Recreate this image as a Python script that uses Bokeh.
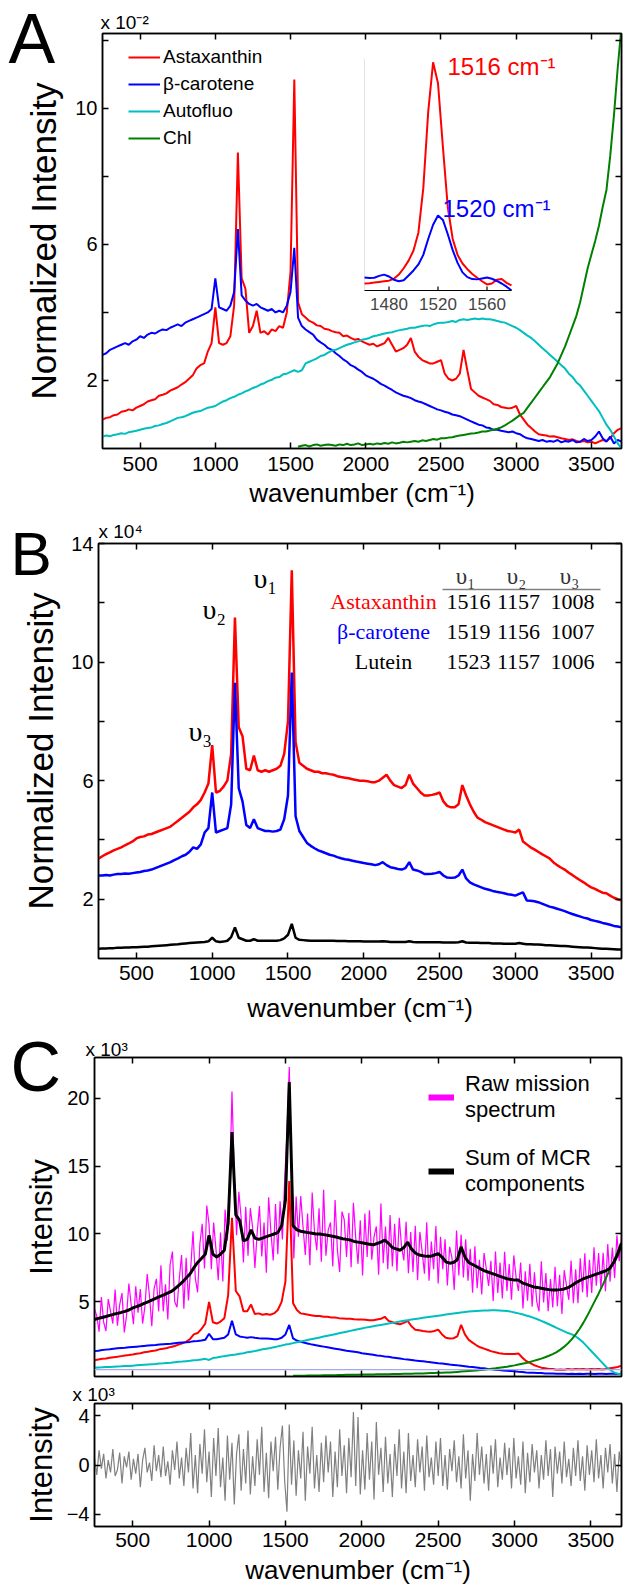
from bokeh.plotting import figure
from bokeh.models import Range1d, LinearAxis, FixedTicker, Label, Legend, LegendItem, Span
from bokeh.embed import file_html
from bokeh.resources import INLINE

# ---------------------------------------------------------------- data
wn = list(range(250, 3701, 25))        # sampling grid of the spectra (cm-1), 139 points
wn_chl = list(range(1550, 3701, 25))   # chlorophyll component only shown from 1550 cm-1, 87 points
wn_raw = list(range(250, 3701, 15))    # raw spectrum / residual grid, 231 points
x_ticks = [500, 1000, 1500, 2000, 2500, 3000, 3500]

# Panel A: normalized MCR spectra (x 10^-2)
A_astax = [0.85, 0.9, 0.92, 0.98, 1.0, 1.08, 1.1, 1.15, 1.12, 1.2, 1.25, 1.3, 1.38, 1.42, 1.45, 1.55, 1.58, 1.62, 1.7, 1.75,
           1.8, 1.88, 1.95, 2.05, 2.15, 2.35, 2.45, 2.5, 2.85, 3.1, 4.15, 3.1, 3.05, 3.1, 3.3, 4.2, 8.7, 5.0, 4.7, 3.4,
           3.6, 4.05, 3.4, 3.45, 3.35, 3.5, 3.45, 3.6, 3.55, 4.0, 5.2, 10.85, 4.3, 3.95, 3.85, 3.75, 3.7, 3.62, 3.6, 3.52,
           3.5, 3.45, 3.42, 3.4, 3.3, 3.32, 3.25, 3.2, 3.22, 3.15, 3.1, 3.05, 3.08, 3.0, 3.05, 3.1, 3.25, 3.05, 2.85, 2.9,
           2.95, 3.05, 3.25, 2.85, 2.7, 2.6, 2.55, 2.5, 2.5, 2.55, 2.6, 2.2, 2.05, 2.0, 2.05, 2.2, 2.9, 2.3, 1.75, 1.65,
           1.55, 1.5, 1.45, 1.4, 1.3, 1.28, 1.22, 1.2, 1.18, 1.2, 1.25, 1.0, 0.85, 0.7, 0.6, 0.5, 0.42, 0.4, 0.38, 0.35,
           0.36, 0.33, 0.3, 0.28, 0.25, 0.27, 0.22, 0.2, 0.22, 0.18, 0.2, 0.15, 0.2, 0.25, 0.22, 0.3, 0.45, 0.55, 0.6]
A_beta = [2.75, 2.8, 2.9, 2.95, 3.0, 3.05, 3.1, 3.05, 3.15, 3.2, 3.3, 3.25, 3.35, 3.4, 3.38, 3.45, 3.5, 3.48, 3.55, 3.6,
          3.65, 3.6, 3.7, 3.75, 3.8, 3.85, 3.9, 3.95, 4.0, 4.1, 5.0, 4.15, 4.1, 4.05, 4.2, 4.6, 6.45, 4.5, 4.35, 4.25,
          4.2, 4.25, 4.15, 4.1, 4.05, 4.1, 4.0, 4.05, 4.0, 4.2, 4.6, 5.9, 3.85, 3.6, 3.5, 3.42, 3.35, 3.2, 3.12, 3.05,
          2.95, 2.9, 2.8, 2.72, 2.62, 2.55, 2.45, 2.4, 2.32, 2.25, 2.15, 2.1, 2.05, 1.98, 1.9, 1.85, 1.78, 1.72, 1.65, 1.6,
          1.55, 1.52, 1.48, 1.42, 1.38, 1.35, 1.3, 1.25, 1.2, 1.15, 1.12, 1.08, 1.05, 1.0, 0.98, 0.95, 0.9, 0.85, 0.8, 0.75,
          0.7, 0.68, 0.62, 0.6, 0.55, 0.55, 0.52, 0.5, 0.48, 0.5, 0.45, 0.42, 0.35, 0.3, 0.28, 0.25, 0.22, 0.25, 0.2, 0.22,
          0.2, 0.25, 0.18, 0.22, 0.2, 0.25, 0.18, 0.2, 0.28, 0.22, 0.25, 0.35, 0.5, 0.3, 0.2, 0.35, 0.15, 0.25, 0.2]
A_autofluo = [0.35, 0.38, 0.36, 0.4, 0.42, 0.45, 0.43, 0.48, 0.5, 0.52, 0.55, 0.58, 0.6, 0.62, 0.66, 0.68, 0.72, 0.75, 0.8, 0.85,
              0.9, 0.92, 0.95, 1.0, 1.05, 1.08, 1.1, 1.15, 1.2, 1.22, 1.25, 1.32, 1.38, 1.42, 1.48, 1.52, 1.58, 1.62, 1.68, 1.72,
              1.78, 1.82, 1.88, 1.92, 1.98, 2.02, 2.08, 2.1, 2.18, 2.2, 2.25, 2.3, 2.25, 2.3, 2.5, 2.55, 2.6, 2.65, 2.72, 2.75,
              2.82, 2.88, 2.9, 2.95, 3.0, 3.05, 3.08, 3.12, 3.15, 3.2, 3.22, 3.25, 3.3, 3.32, 3.35, 3.38, 3.4, 3.42, 3.45, 3.48,
              3.5, 3.52, 3.55, 3.55, 3.58, 3.6, 3.62, 3.6, 3.65, 3.68, 3.7, 3.7, 3.72, 3.75, 3.72, 3.78, 3.8, 3.78, 3.8, 3.82,
              3.8, 3.82, 3.8, 3.8, 3.78, 3.75, 3.72, 3.7, 3.65, 3.6, 3.55, 3.48, 3.4, 3.32, 3.25, 3.15, 3.05, 2.95, 2.85, 2.75,
              2.65, 2.55, 2.45, 2.35, 2.2, 2.1, 1.95, 1.85, 1.7, 1.55, 1.4, 1.25, 1.1, 0.9, 0.7, 0.55, 0.35, 0.15, 0.0]
A_chl = [0.05, 0.08, 0.1, 0.06, 0.1, 0.12, 0.08, 0.1, 0.12, 0.1, 0.08, 0.12, 0.1, 0.14, 0.1, 0.12, 0.15, 0.1, 0.12, 0.14,
         0.12, 0.15, 0.13, 0.16, 0.14, 0.18, 0.15, 0.17, 0.2, 0.18, 0.2, 0.22, 0.2, 0.24, 0.22, 0.25, 0.28, 0.26, 0.3, 0.3,
         0.32, 0.33, 0.36, 0.38, 0.4, 0.42, 0.44, 0.45, 0.47, 0.5, 0.5, 0.53, 0.55, 0.58, 0.62, 0.68, 0.75, 0.82, 0.9, 0.98,
         1.05, 1.2, 1.35, 1.5, 1.65, 1.8, 1.95, 2.1, 2.3, 2.5, 2.75, 3.0, 3.3, 3.6, 3.9, 4.3, 4.8, 5.3, 5.7, 6.1,
         6.55, 7.1, 7.6, 8.6, 9.8, 11.2, 12.4]

# inset of panel A (1460-1580 cm-1)
inset_wn = [1460, 1464, 1468, 1472, 1476, 1480, 1484, 1488, 1492, 1496, 1500, 1504, 1508, 1512, 1516, 1520,
            1524, 1528, 1532, 1536, 1540, 1544, 1548, 1552, 1556, 1560, 1564, 1568, 1572, 1576, 1580]
inset_astax = [3.90, 3.91, 3.93, 3.95, 3.97, 3.99, 4.05, 4.18, 4.38, 4.62, 4.94, 5.5, 6.9, 9.3, 10.86, 10.2,
               8.2, 6.3, 5.3, 4.8, 4.53, 4.35, 4.2, 4.08, 3.97, 3.87, 3.9, 4.02, 4.04, 3.92, 3.84]
inset_beta = [4.09, 4.07, 4.08, 4.14, 4.18, 4.12, 4.02, 3.97, 4.0, 4.15, 4.31, 4.5, 4.8, 5.3, 5.75, 6.04,
              5.9, 5.45, 4.95, 4.55, 4.25, 4.1, 4.04, 4.03, 4.06, 4.09, 4.05, 3.98, 3.9, 3.8, 3.68]
inset_ticks = [1480, 1520, 1560]

# Panel B: reference spectra (x 10^4)
B_astax = [3.37, 3.45, 3.52, 3.58, 3.65, 3.7, 3.75, 3.82, 3.88, 3.95, 4.05, 4.1, 4.12, 4.18, 4.2, 4.25, 4.3, 4.35, 4.4, 4.45,
           4.55, 4.65, 4.75, 4.85, 4.95, 5.1, 5.2, 5.35, 5.6, 5.9, 7.2, 5.6, 5.65, 5.8, 6.0, 6.9, 11.5, 7.8, 7.5, 6.4,
           6.35, 6.85, 6.35, 6.3, 6.35, 6.3, 6.35, 6.4, 6.5, 6.9, 8.0, 13.1, 7.3, 6.6, 6.5, 6.4, 6.35, 6.3, 6.3, 6.25,
           6.25, 6.22, 6.2, 6.15, 6.12, 6.1, 6.08, 6.05, 6.02, 6.0, 6.0, 5.98, 5.95, 5.95, 6.0, 6.1, 6.2, 6.0, 5.85, 5.8,
           5.75, 5.85, 6.2, 5.9, 5.75, 5.6, 5.5, 5.5, 5.52, 5.55, 5.6, 5.3, 5.15, 5.1, 5.1, 5.2, 5.85, 5.5, 5.2, 4.95,
           4.75, 4.68, 4.6, 4.55, 4.5, 4.45, 4.4, 4.35, 4.3, 4.28, 4.25, 4.35, 3.95, 3.85, 3.75, 3.68, 3.6, 3.52, 3.45, 3.38,
           3.25, 3.15, 3.07, 3.0, 2.9, 2.82, 2.73, 2.65, 2.57, 2.48, 2.4, 2.35, 2.28, 2.22, 2.2, 2.12, 2.05, 2.0, 1.96]
B_beta = [2.8, 2.8, 2.82, 2.8, 2.83, 2.85, 2.85, 2.87, 2.86, 2.88, 2.9, 2.92, 2.95, 2.97, 3.0, 3.05, 3.1, 3.15, 3.2, 3.25,
          3.32, 3.38, 3.45, 3.5, 3.6, 3.75, 3.7, 3.85, 4.25, 4.4, 5.6, 4.25, 4.3, 4.35, 4.4, 5.2, 9.3, 5.75, 5.3, 4.5,
          4.4, 4.7, 4.4, 4.35, 4.3, 4.3, 4.28, 4.3, 4.35, 4.7, 5.5, 9.65, 4.8, 4.3, 4.1, 3.9, 3.8, 3.72, 3.65, 3.6,
          3.55, 3.5, 3.47, 3.42, 3.38, 3.35, 3.33, 3.3, 3.27, 3.25, 3.22, 3.2, 3.18, 3.15, 3.18, 3.25, 3.15, 3.08, 3.05, 3.02,
          3.0, 3.05, 3.25, 3.0, 2.97, 2.92, 2.85, 2.85, 2.86, 2.88, 2.92, 2.8, 2.73, 2.72, 2.73, 2.8, 3.0, 2.7, 2.57, 2.5,
          2.45, 2.4, 2.35, 2.32, 2.28, 2.25, 2.23, 2.2, 2.17, 2.15, 2.12, 2.18, 2.23, 1.96, 1.95, 1.93, 1.9, 1.85, 1.8, 1.75,
          1.72, 1.68, 1.64, 1.6, 1.55, 1.5, 1.46, 1.42, 1.38, 1.35, 1.3, 1.27, 1.24, 1.2, 1.17, 1.14, 1.1, 1.08, 1.05]
B_lutein = [0.33, 0.34, 0.34, 0.35, 0.35, 0.36, 0.36, 0.37, 0.37, 0.38, 0.38, 0.39, 0.4, 0.4, 0.41, 0.42, 0.43, 0.44, 0.45, 0.46,
            0.47, 0.48, 0.5, 0.51, 0.52, 0.53, 0.54, 0.55, 0.56, 0.58, 0.7, 0.58, 0.56, 0.57, 0.6, 0.72, 1.05, 0.7, 0.65, 0.6,
            0.6, 0.65, 0.6, 0.6, 0.6, 0.6, 0.6, 0.6, 0.62, 0.68, 0.8, 1.17, 0.7, 0.63, 0.62, 0.61, 0.6, 0.6, 0.6, 0.6,
            0.6, 0.6, 0.6, 0.59, 0.59, 0.59, 0.58, 0.58, 0.58, 0.58, 0.57, 0.57, 0.57, 0.57, 0.57, 0.58, 0.57, 0.56, 0.56, 0.56,
            0.56, 0.56, 0.58, 0.56, 0.55, 0.55, 0.55, 0.55, 0.55, 0.55, 0.55, 0.54, 0.54, 0.54, 0.54, 0.55, 0.58, 0.54, 0.53, 0.53,
            0.53, 0.52, 0.52, 0.52, 0.51, 0.51, 0.51, 0.5, 0.5, 0.5, 0.5, 0.52, 0.5, 0.48, 0.48, 0.47, 0.47, 0.46, 0.45, 0.45,
            0.44, 0.43, 0.42, 0.42, 0.41, 0.4, 0.39, 0.38, 0.37, 0.37, 0.36, 0.35, 0.34, 0.33, 0.33, 0.32, 0.31, 0.3, 0.3]
table_names = ["Astaxanthin", "β-carotene", "Lutein"]
table_v1 = [1516, 1519, 1523]
table_v2 = [1157, 1156, 1157]
table_v3 = [1008, 1007, 1006]

# Panel C: MCR decomposition of a raw emission spectrum (x 10^3)
C_astax = [0.7, 0.75, 0.8, 0.82, 0.88, 0.92, 0.95, 1.0, 1.05, 1.08, 1.12, 1.18, 1.22, 1.28, 1.32, 1.38, 1.42, 1.5, 1.55, 1.6,
           1.68, 1.75, 1.85, 1.95, 2.05, 2.25, 2.6, 2.7, 3.0, 3.4, 5.0, 3.5, 3.4, 3.55, 3.8, 5.5, 11.2, 5.8, 5.4, 4.3,
           4.3, 4.8, 4.1, 4.15, 4.05, 4.1, 4.05, 4.15, 4.4, 5.0, 6.5, 13.9, 4.9, 4.4, 4.15, 4.1, 4.05, 4.0, 3.95, 3.95,
           3.9, 3.9, 3.85, 3.85, 3.8, 3.78, 3.75, 3.75, 3.72, 3.7, 3.7, 3.68, 3.65, 3.65, 3.7, 3.75, 3.9, 3.6, 3.5, 3.4,
           3.35, 3.45, 3.6, 3.2, 2.95, 2.9, 2.85, 2.82, 2.8, 2.85, 2.95, 2.6, 2.35, 2.3, 2.32, 2.45, 3.3, 2.6, 2.2, 2.0,
           1.8, 1.65, 1.55, 1.45, 1.35, 1.28, 1.22, 1.18, 1.15, 1.15, 1.15, 1.2, 0.9, 0.65, 0.5, 0.35, 0.25, 0.15, 0.1, 0.05,
           0.05, 0.0, 0.02, 0.0, 0.05, 0.02, 0.05, 0.03, 0.05, 0.02, 0.05, 0.03, 0.05, 0.02, 0.05, 0.1, 0.15, 0.2, 0.3]
C_beta = [1.37, 1.4, 1.45, 1.48, 1.5, 1.55, 1.58, 1.6, 1.62, 1.65, 1.68, 1.7, 1.72, 1.75, 1.78, 1.8, 1.82, 1.85, 1.88, 1.9,
          1.92, 1.95, 1.98, 2.0, 2.02, 2.05, 2.1, 2.12, 2.15, 2.2, 2.65, 2.25, 2.25, 2.3, 2.35, 2.6, 3.6, 2.6, 2.45, 2.4,
          2.35, 2.4, 2.35, 2.32, 2.3, 2.3, 2.28, 2.25, 2.25, 2.35, 2.6, 3.3, 2.3, 2.15, 2.05, 1.98, 1.92, 1.85, 1.8, 1.75,
          1.7, 1.65, 1.6, 1.55, 1.5, 1.45, 1.4, 1.36, 1.32, 1.28, 1.22, 1.18, 1.14, 1.1, 1.05, 1.02, 0.98, 0.95, 0.9, 0.86,
          0.82, 0.78, 0.75, 0.72, 0.68, 0.65, 0.62, 0.58, 0.55, 0.52, 0.48, 0.45, 0.42, 0.38, 0.35, 0.32, 0.3, 0.26, 0.22, 0.2,
          0.16, 0.12, 0.1, 0.06, 0.03, 0.0, -0.02, -0.05, -0.08, -0.1, -0.12, -0.15, -0.17, -0.2, -0.22, -0.22, -0.25, -0.25, -0.27, -0.28,
          -0.28, -0.3, -0.3, -0.3, -0.32, -0.3, -0.32, -0.3, -0.32, -0.3, -0.3, -0.32, -0.3, -0.3, -0.32, -0.3, -0.3, -0.32, -0.3]
C_autofluo = [0.15, 0.17, 0.18, 0.2, 0.2, 0.22, 0.24, 0.25, 0.27, 0.28, 0.3, 0.32, 0.34, 0.36, 0.38, 0.4, 0.42, 0.45, 0.47, 0.5,
              0.52, 0.55, 0.58, 0.6, 0.63, 0.66, 0.7, 0.72, 0.76, 0.8, 0.72, 0.86, 0.9, 0.95, 1.0, 1.04, 1.08, 1.12, 1.18, 1.22,
              1.28, 1.33, 1.38, 1.44, 1.5, 1.55, 1.6, 1.66, 1.72, 1.78, 1.85, 1.9, 1.96, 2.02, 2.08, 2.14, 2.2, 2.26, 2.32, 2.38,
              2.44, 2.5, 2.56, 2.62, 2.68, 2.74, 2.8, 2.86, 2.92, 2.98, 3.04, 3.1, 3.15, 3.2, 3.25, 3.3, 3.35, 3.4, 3.45, 3.5,
              3.55, 3.6, 3.65, 3.7, 3.74, 3.78, 3.82, 3.86, 3.9, 3.94, 3.98, 4.02, 4.06, 4.1, 4.14, 4.18, 4.22, 4.25, 4.28, 4.3,
              4.32, 4.34, 4.36, 4.37, 4.38, 4.38, 4.37, 4.35, 4.32, 4.28, 4.22, 4.15, 4.08, 4.0, 3.92, 3.82, 3.72, 3.6, 3.48, 3.35,
              3.22, 3.08, 2.95, 2.82, 2.7, 2.6, 2.45, 2.25, 2.0, 1.7, 1.4, 1.1, 0.8, 0.5, 0.2, 0.0, -0.2, -0.3, -0.35]
C_chl = [-0.45, -0.45, -0.44, -0.44, -0.43, -0.43, -0.42, -0.42, -0.41, -0.41, -0.4, -0.4, -0.39, -0.39, -0.38, -0.38, -0.37, -0.37, -0.36, -0.36,
         -0.35, -0.35, -0.34, -0.34, -0.33, -0.33, -0.32, -0.32, -0.31, -0.3, -0.3, -0.29, -0.28, -0.28, -0.27, -0.26, -0.25, -0.24, -0.23, -0.22,
         -0.21, -0.2, -0.18, -0.16, -0.14, -0.12, -0.1, -0.08, -0.05, -0.02, 0.0, 0.03, 0.07, 0.1, 0.14, 0.18, 0.22, 0.27, 0.32, 0.38,
         0.44, 0.5, 0.57, 0.65, 0.73, 0.82, 0.92, 1.03, 1.15, 1.3, 1.48, 1.7, 1.95, 2.25, 2.6, 3.0, 3.45, 3.95, 4.5, 5.05,
         5.6, 6.2, 6.8, 7.4, 8.0, 8.7, 9.4]
C_sum = [3.7, 3.78, 3.85, 3.92, 4.0, 4.08, 4.15, 4.22, 4.3, 4.4, 4.55, 4.65, 4.75, 4.88, 5.0, 5.12, 5.25, 5.38, 5.5, 5.62,
         5.75, 5.95, 6.2, 6.45, 6.75, 7.05, 7.5, 7.9, 8.2, 8.5, 9.9, 8.5, 8.3, 8.5, 8.8, 10.8, 17.5, 11.4, 11.0, 9.5,
         9.6, 10.3, 9.7, 9.6, 9.7, 9.8, 9.9, 10.0, 10.1, 10.6, 12.5, 21.2, 10.6, 10.3, 10.2, 10.15, 10.1, 10.05, 10.0, 10.0,
         9.95, 9.9, 9.85, 9.8, 9.72, 9.65, 9.6, 9.55, 9.45, 9.4, 9.35, 9.3, 9.25, 9.2, 9.3, 9.4, 9.55, 9.3, 9.0, 8.9,
         8.8, 9.0, 9.4, 8.9, 8.6, 8.45, 8.4, 8.35, 8.35, 8.45, 8.55, 8.3, 7.95, 7.85, 7.9, 8.1, 9.05, 8.3, 7.9, 7.75,
         7.6, 7.45, 7.3, 7.2, 7.1, 7.0, 6.9, 6.8, 6.7, 6.65, 6.6, 6.6, 6.4, 6.3, 6.2, 6.1, 6.05, 6.0, 5.95, 5.9,
         5.88, 5.88, 5.9, 5.95, 6.05, 6.2, 6.4, 6.55, 6.7, 6.8, 6.9, 7.0, 7.1, 7.2, 7.3, 7.5, 7.9, 8.5, 9.3]
C_raw = [4.5, 3.95, 2.8, 5.35, 3.5, 2.85, 5.2, 4.3, 3.4, 5.9,
         3.25, 4.8, 5.65, 2.75, 4.0, 6.35, 4.8, 3.35, 6.15, 4.2,
         5.95, 3.4, 4.65, 7.05, 5.45, 3.2, 5.95, 6.7, 4.3, 7.7,
         4.3, 6.3, 3.7, 7.75, 8.7, 5.0, 4.6, 6.7, 8.45, 4.5,
         8.25, 5.1, 7.5, 10.2, 6.75, 5.7, 9.3, 10.75, 7.45, 12.1,
         10.7, 7.4, 10.85, 8.9, 6.6, 10.1, 6.5, 11.8, 9.5, 13.5,
         20.5, 14.5, 9.9, 13.1, 11.2, 7.9, 12.0, 8.4, 11.9, 10.5,
         7.5, 10.1, 12.05, 8.35, 10.85, 7.15, 12.7, 10.15, 8.05, 12.2,
         8.5, 12.4, 9.6, 14.0, 17.5, 22.3, 14.2, 8.2, 12.75, 9.8,
         12.8, 10.55, 8.45, 11.5, 7.7, 13.05, 10.2, 8.8, 11.9, 7.95,
         13.25, 8.4, 10.3, 10.85, 7.6, 12.5, 8.85, 7.2, 11.65, 11.05,
         8.3, 11.55, 7.55, 12.3, 9.75, 7.8, 11.0, 6.95, 11.5, 8.3,
         11.75, 8.1, 9.8, 10.55, 7.0, 12.25, 7.85, 10.55, 7.4, 11.4,
         7.6, 10.75, 7.25, 11.2, 9.1, 8.05, 10.9, 7.1, 10.15, 7.2,
         10.6, 6.6, 10.15, 8.7, 7.08, 10.86, 6.55, 9.45, 7.4, 10.58,
         6.35, 9.8, 7.4, 9.6, 6.2, 9.05, 8.25, 5.88, 10.25, 6.95,
         9.95, 6.8, 9.6, 6.55, 8.9, 5.68, 9.1, 6.0, 8.1, 5.55,
         8.6, 7.44, 6.18, 8.02, 5.06, 8.7, 5.65, 7.9, 5.24, 8.68,
         5.8, 7.78, 5.15, 8.42, 6.8, 5.8, 7.9, 4.52, 7.25, 5.08,
         7.8, 4.64, 7.18, 5.04, 4.3, 7.98, 4.95, 7.13, 4.31, 6.7,
         4.58, 7.58, 4.68, 6.99, 4.1, 7.33, 6.18, 5.15, 8.05, 4.9,
         7.4, 4.9, 8.2, 5.7, 8.58, 5.34, 8.1, 5.66, 9.02, 6.18,
         8.6, 5.96, 8.62, 5.78, 9.25, 6.48, 9.0, 6.75, 9.9, 8.0,
         9.8]
C_residual = [0.6, -0.8, 1.2, -0.3, 0.9, -1.1, 0.4, -0.6, 1.3, -0.9,
              -0.4, 1.0, -1.5, 0.7, -0.2, 1.1, -1.2, 0.5, -0.7, 0.9,
              -1.8, 0.4, 1.4, -0.6, 0.2, -1.3, 1.6, -0.5, 0.8, -1.0,
              1.5, -0.9, 0.3, -1.6, 1.2, -0.4, 1.9, -1.1, 0.6, -1.7,
              1.4, -0.6, 2.6, -1.9, 0.8, -2.3, 1.7, -0.7, 2.9, -1.4,
              1.1, -2.6, 2.2, -0.9, 3.0, -1.8, 0.6, -2.9, 2.4, -1.2,
              1.8, -3.2, 0.9, 2.5, -2.1, 1.3, -1.5, 2.8, -2.4, 0.7,
              -1.7, 2.1, -0.8, 3.1, -2.2, 1.0, -2.7, 1.9, -0.5, 2.3,
              -2.0, 1.4, 3.2, -1.3, -3.8, 3.3, -1.6, 2.0, -2.5, 1.2,
              -1.1, 2.7, -2.9, 1.5, -0.7, 3.1, -1.9, 0.8, -2.2, 1.8,
              -1.4, 2.4, -0.6, 1.9, -2.6, 1.1, -1.8, 2.9, -0.9, 1.6,
              -2.3, 2.2, -1.0, 4.3, -1.7, 3.9, -2.4, 1.2, -2.0, 2.6,
              -1.2, 1.9, -2.8, 3.5, -0.8, 1.4, -2.2, 2.3, -1.5, 0.9,
              -2.6, 1.7, -0.9, 2.9, -1.9, 1.1, -2.3, 2.6, -1.3, 0.8,
              -1.8, 2.1, -0.6, 1.5, -2.1, 2.4, -1.0, 0.6, -1.6, 1.9,
              -0.9, 2.2, -1.7, 0.8, -2.0, 1.3, -0.5, 2.0, -1.4, 0.7,
              -1.9, 2.5, -1.1, 1.2, -2.9, 0.9, -1.3, 2.6, -0.8, 1.5,
              -1.5, 0.9, -2.1, 1.6, -0.7, 2.1, -1.8, 0.6, -1.2, 1.8,
              -0.8, 1.4, -1.9, 2.2, -1.1, 0.7, -1.6, 1.9, -2.3, 1.0,
              -1.4, 1.7, -0.6, 1.2, -1.9, 0.8, -1.2, 2.0, -0.9, 1.3,
              -2.6, 1.5, -0.7, 1.1, -1.5, 1.9, -1.0, 0.5, -1.7, 1.4,
              -0.9, 2.0, -1.3, 0.7, -2.1, 1.6, -0.8, 1.2, -1.4, 2.1,
              -1.1, 0.8, -1.9, 1.4, -0.6, 1.7, -1.5, 0.9, -2.2, 1.1,
              -0.4]

# ---------------------------------------------------------------- style / layout
SANS = "Liberation Sans"
SERIF = "Liberation Serif"
RED, BLUE, CYAN, GREEN = "#ff0000", "#0000ff", "#00bfbf", "#008000"
MAGENTA, GRAY = "#ff00ff", "#808080"
PW, PH = 623, 1592      # page size (the template has no body margin)
FRAME_RIGHT = 621       # page x of the right frame edge
XR = (250, 3700)
# page-pixel geometry: canvas top, canvas height, frame (left, top, height)
GEOM = {
    "A": dict(top=0, h=512, frame=(102, 33, 415), yr=(0, 12.2)),
    "B": dict(top=512, h=518, frame=(98, 543, 415), yr=(0, 14)),
    "C": dict(top=1030, h=350, frame=(94, 1057, 319), yr=(-0.5, 23)),
    "R": dict(top=1380, h=212, frame=(94, 1403, 123), yr=(-5, 5)),
}


def frame_w(g):
    return FRAME_RIGHT - g["frame"][0]


def px2x(g, px):
    L = g["frame"][0]
    return XR[0] + (px - L) / frame_w(g) * (XR[1] - XR[0])


def py2y(g, py):
    L, T, Hf = g["frame"]
    y0, y1 = g["yr"]
    return y1 - (py - T) / Hf * (y1 - y0)


def style_axis(ax, show, size="21px", standoff=5):
    ax.major_tick_in = 6
    ax.major_tick_out = 0
    ax.minor_tick_in = 6
    ax.minor_tick_out = 0
    ax.major_tick_line_width = 1.5
    ax.minor_tick_line_width = 1.5
    ax.major_tick_line_color = "black"
    ax.minor_tick_line_color = "black"
    ax.axis_line_width = 1.5
    ax.axis_line_color = "black"
    ax.major_label_text_font = SANS
    if show:
        ax.major_label_text_font_size = size
        ax.major_label_text_color = "black"
        ax.major_label_standoff = standoff
    else:
        ax.major_label_text_font_size = "1px"
        ax.major_label_text_color = None
        ax.major_label_standoff = 0
    ax.axis_label_text_font = SANS
    ax.axis_label_text_font_style = "normal"
    ax.axis_label_text_color = "black"


def main_fig(key, yticks, yminor, ylabel, ylabel_size, ylabel_standoff, xlabel, xtick_standoff, xlabel_standoff):
    g = GEOM[key]
    L, T, Hf = g["frame"]
    top = T - g["top"]
    bottom = g["h"] - top - Hf
    p = figure(width=PW, height=g["h"], x_range=Range1d(*XR), y_range=Range1d(*g["yr"]),
               output_backend="svg", toolbar_location=None,
               min_border_left=L, min_border_right=PW - FRAME_RIGHT, min_border_top=top, min_border_bottom=bottom,
               styles={"position": "absolute", "left": "0px", "top": f"{g['top']}px"})
    p.outline_line_color = "black"
    p.outline_line_width = 1.5
    p.grid.visible = False
    xa = p.xaxis[0]
    xa.ticker = FixedTicker(ticks=x_ticks, minor_ticks=[])
    style_axis(xa, xlabel is not None, "21px", xtick_standoff)
    if xlabel is not None:
        xa.axis_label = xlabel
        xa.axis_label_text_font_size = "26px"
        xa.axis_label_standoff = xlabel_standoff
    ya = p.yaxis[0]
    ya.ticker = FixedTicker(ticks=yticks, minor_ticks=yminor)
    style_axis(ya, True, "20px", 5)
    ya.axis_label = ylabel
    ya.axis_label_text_font_size = f"{ylabel_size}px"
    ya.axis_label_standoff = ylabel_standoff
    top_ax = LinearAxis(ticker=FixedTicker(ticks=x_ticks, minor_ticks=[]))
    style_axis(top_ax, False)
    p.add_layout(top_ax, "above")
    right_ax = LinearAxis(ticker=FixedTicker(ticks=yticks, minor_ticks=yminor))
    style_axis(right_ax, False)
    p.add_layout(right_ax, "right")
    return p


def add_text(p, g, px, py, text, size, color="black", font=SANS, align="left", **kw):
    # (px, py): page position of the text start (or centre) and of its vertical middle
    p.add_layout(Label(x=px2x(g, px), y=py2y(g, py), text=text, text_font=font,
                       text_font_size=f"{size}px", text_color=color, text_align=align,
                       text_baseline="middle", **kw))


XLABEL = "wavenumber (cm\u207b\u00b9)"

# ---------------------------------------------------------------- panel A
gA = GEOM["A"]
pA = main_fig("A", [2, 6, 10], [4, 8, 12], "Normalized Intensity", 35, 9, XLABEL, 8, 4)
rA1 = pA.line(wn, A_astax, line_color=RED, line_width=2)
rA2 = pA.line(wn, A_beta, line_color=BLUE, line_width=2)
rA3 = pA.line(wn, A_autofluo, line_color=CYAN, line_width=2)
rA4 = pA.line(wn_chl, A_chl, line_color=GREEN, line_width=2)

# inset drawn through its own ranges, mapped onto a sub-box of the frame (box given in page pixels)
L, T, Hf = gA["frame"]
Wf = frame_w(gA)
ib = (364, 511, 58, 290)           # inset box: left, right, top, bottom
ix = (1460, 1580)
iy = (3.68, 10.98)
sx = (ix[1] - ix[0]) / (ib[1] - ib[0])
sy = (iy[1] - iy[0]) / (ib[3] - ib[2])
pA.extra_x_ranges = {"ix": Range1d(ix[0] - (ib[0] - L) * sx, ix[1] + (L + Wf - ib[1]) * sx)}
pA.extra_y_ranges = {"iy": Range1d(iy[0] - (T + Hf - ib[3]) * sy, iy[1] + (ib[2] - T) * sy)}
pA.segment(x0=[ix[0]], y0=[iy[0]], x1=[ix[0]], y1=[iy[1]], x_range_name="ix", y_range_name="iy",
           line_color="#e4e4e4", line_width=1)
pA.line(inset_wn, inset_astax, x_range_name="ix", y_range_name="iy", line_color=RED, line_width=2)
pA.line(inset_wn, inset_beta, x_range_name="ix", y_range_name="iy", line_color=BLUE, line_width=2)
pA.segment(x0=[ix[0]], y0=[iy[0]], x1=[ix[1]], y1=[iy[0]], x_range_name="ix", y_range_name="iy",
           line_color="black", line_width=1.2)
pA.segment(x0=inset_ticks, y0=[iy[0]] * 3, x1=inset_ticks, y1=[iy[0] + 4 * sy] * 3,
           x_range_name="ix", y_range_name="iy", line_color="black", line_width=1.2)
for t in inset_ticks:
    pA.add_layout(Label(x=t, y=py2y(gA, 303), x_range_name="ix", text=str(t), text_font=SANS,
                        text_font_size="17px", text_align="center", text_baseline="middle"))
add_text(pA, gA, 447, 66, "1516 cm\u207b\u00b9", 24, RED)
add_text(pA, gA, 442, 208, "1520 cm\u207b\u00b9", 24, BLUE)

legA = Legend(items=[LegendItem(label="Astaxanthin", renderers=[rA1]),
                     LegendItem(label="β-carotene", renderers=[rA2]),
                     LegendItem(label="Autofluo", renderers=[rA3]),
                     LegendItem(label="Chl", renderers=[rA4])],
              location=(26, 299), border_line_color=None, background_fill_alpha=0.0,
              label_text_font=SANS, label_text_font_size="19px", label_text_color="black",
              glyph_width=32, glyph_height=22, label_height=22, label_standoff=3,
              spacing=5, padding=0, margin=0)
pA.add_layout(legA)

# ---------------------------------------------------------------- panel B
gB = GEOM["B"]
pB = main_fig("B", [2, 6, 10, 14], [4, 8, 12], "Normalized Intensity", 35, 8, XLABEL, 7, 10)
pB.line(wn, B_astax, line_color=RED, line_width=2.5)
pB.line(wn, B_beta, line_color=BLUE, line_width=2.5)
pB.line(wn, B_lutein, line_color="black", line_width=2.5)
add_text(pB, gB, 253, 578, "\u03c5\u2081", 28, font=SERIF)
add_text(pB, gB, 202, 609, "\u03c5\u2082", 28, font=SERIF)
add_text(pB, gB, 188, 731, "\u03c5\u2083", 28, font=SERIF)
for cx, hdr in zip([465, 516, 569], ["\u03c5\u2081", "\u03c5\u2082", "\u03c5\u2083"]):
    add_text(pB, gB, cx, 576, hdr, 23, color="#333333", font=SERIF, align="center")
pB.segment(x0=[px2x(gB, 442)], y0=[py2y(gB, 589)], x1=[px2x(gB, 600)], y1=[py2y(gB, 589)],
           line_color="#808080", line_width=1.5)
row_colors = [RED, BLUE, "black"]
for i, (nm, a, b, c) in enumerate(zip(table_names, table_v1, table_v2, table_v3)):
    mid = 601 + i * 30
    add_text(pB, gB, 383, mid, nm, 22, color=row_colors[i], font=SERIF, align="center")
    add_text(pB, gB, 468, mid, str(a), 22, font=SERIF, align="center")
    add_text(pB, gB, 518, mid, str(b), 22, font=SERIF, align="center")
    add_text(pB, gB, 572, mid, str(c), 22, font=SERIF, align="center")

# ---------------------------------------------------------------- panel C (decomposition)
gC = GEOM["C"]
pC = main_fig("C", [5, 10, 15, 20], [], "Intensity", 31, 5, None, 0, 0)
pC.add_layout(Span(location=0, dimension="width", line_color="#a8a8f0", line_width=1.2))
rC_raw = pC.line(wn_raw, C_raw, line_color=MAGENTA, line_width=1.2)
pC.line(wn, C_astax, line_color=RED, line_width=2)
pC.line(wn, C_beta, line_color=BLUE, line_width=2)
pC.line(wn, C_autofluo, line_color=CYAN, line_width=2)
pC.line(wn_chl, C_chl, line_color=GREEN, line_width=2)
rC_sum = pC.line(wn, C_sum, line_color="black", line_width=3)
# single-point keys: nothing visible in the plot, thick swatches in the legend
raw_key = pC.line(wn_raw[:1], C_raw[:1], line_color=MAGENTA, line_width=6)
sum_key = pC.line(wn[:1], C_sum[:1], line_color="black", line_width=6)
legC = Legend(items=[LegendItem(label="Raw mission\nspectrum", renderers=[raw_key]),
                     LegendItem(label="Sum of MCR\ncomponents", renderers=[sum_key])],
              location=(334, 179), border_line_color=None, background_fill_alpha=0.0,
              label_text_font=SANS, label_text_font_size="22px", label_text_color="black",
              glyph_width=26, glyph_height=50, label_height=50, label_standoff=11,
              spacing=22, padding=0, margin=0)
pC.add_layout(legC)

# ---------------------------------------------------------------- residual
gR = GEOM["R"]
pR = main_fig("R", [-4, 0, 4], [], "Intensity", 31, 5, XLABEL, 6, 5)
pR.line(wn_raw, C_residual, line_color=GRAY, line_width=1.2)

# ---------------------------------------------------------------- overlay with panel letters and exponents
# a transparent full-page figure (coordinates = page pixels) laid over the panels
ov = figure(width=PW, height=PH, x_range=Range1d(0, PW), y_range=Range1d(PH, 0),
            output_backend="svg", toolbar_location=None, x_axis_location=None, y_axis_location=None,
            min_border=0, styles={"position": "absolute", "left": "0px", "top": "0px"})
ov.outline_line_color = None
ov.background_fill_alpha = 0.0
ov.border_fill_alpha = 0.0
ov.grid.visible = False
# (text, left x, vertical middle y, size)
overlay_texts = [("A", 8, 38, 70), ("B", 10, 553, 62), ("C", 10, 1066, 70),
                 ("x 10\u207b\u00b2", 100, 22, 19), ("x 10\u2074", 98, 531, 19),
                 ("x 10\u00b3", 85, 1049, 19), ("x 10\u00b3", 72, 1394, 19)]
for txt, px, py, size in overlay_texts:
    ov.add_layout(Label(x=px, y=py, text=txt, text_font=SANS, text_font_size=f"{size}px",
                        text_color="black", text_align="left", text_baseline="middle"))

open("out.html", "w").write(file_html([pA, pB, pC, pR, ov], INLINE))
